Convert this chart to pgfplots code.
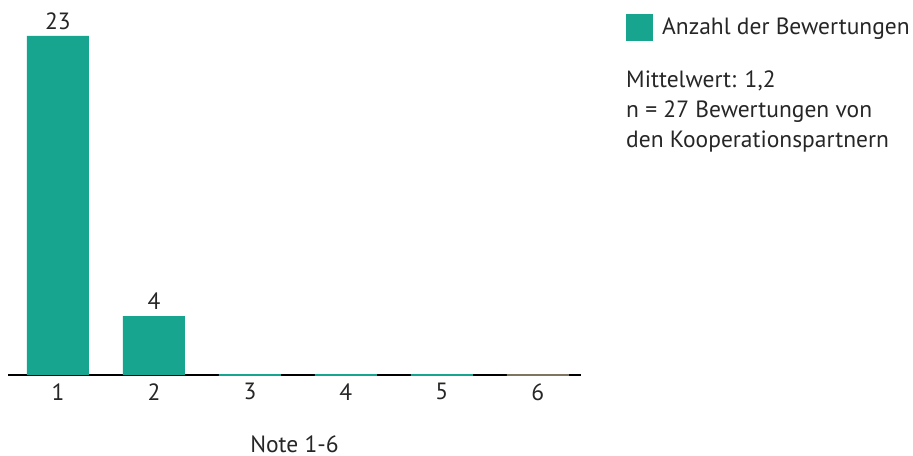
\documentclass[border=0pt]{standalone}
\usepackage{pgfplots}
\pgfplotsset{compat=1.18}
\usepackage{fontspec}
\setmainfont{PT Sans}
\definecolor{barteal}{RGB}{23,165,143}
\definecolor{zerogray}{RGB}{125,117,96}
\newcommand{\fs}{\fontsize{23.5bp}{30bp}\selectfont}
\begin{document}
\begin{tikzpicture}
\begin{axis}[
  scale only axis,
  width=573bp, height=339bp,
  xmin=0.479, xmax=6.45,
  ymin=0, ymax=23,
  axis x line=bottom,
  axis y line=none,
  axis line style={black, line width=1.2bp, -},
  xtick={1,2,3,4,5,6},
  major tick length=0pt,
  /pgf/number format/assume math mode=true,
  tick label style={font=\fs, text=black!85},
  xticklabel style={yshift=-5bp},
  xlabel={Note 1-6},
  xlabel style={font=\fs, text=black!85, at={(axis description cs:0.5,-0.2035)}, anchor=center},
  ybar, bar shift=0pt, bar width=62bp,
  legend style={draw=none, fill=none, font=\fs, text=black!85,
    at={(axis description cs:1.0785,1.0265)}, anchor=west,
    inner xsep=0pt, inner ysep=0pt, legend cell align=left,
    nodes={inner xsep=0pt}, column sep=9bp},
  legend image code/.code={\fill[barteal] (0bp,-13.5bp) rectangle (27bp,13.5bp);},
]
\addplot[fill=barteal, draw=none,
  nodes near coords,
  nodes near coords style={font=\fs, text=black!85, anchor=south, inner sep=0pt, yshift=6bp}]
  coordinates {(1,23) (2,4)};
\addlegendentry{Anzahl der Bewertungen}
\addplot[fill=barteal, draw=barteal, line width=1.2bp, forget plot]
  coordinates {(3,0) (4,0) (5,0)};
\addplot[fill=zerogray, draw=zerogray, line width=1.2bp, forget plot]
  coordinates {(6,0)};
\end{axis}
% the base anchor of a multi-line node sits on its last line
\node[anchor=base west, align=left, inner sep=0pt, font=\fs, text=black!85] at (618bp,227bp)
  {Mittelwert: 1,2\\n = 27 Bewertungen von\\den Kooperationspartnern};
\pgfresetboundingbox
\path[use as bounding box] (-8bp,-81bp) rectangle (905bp,375bp);
\end{tikzpicture}
\end{document}
